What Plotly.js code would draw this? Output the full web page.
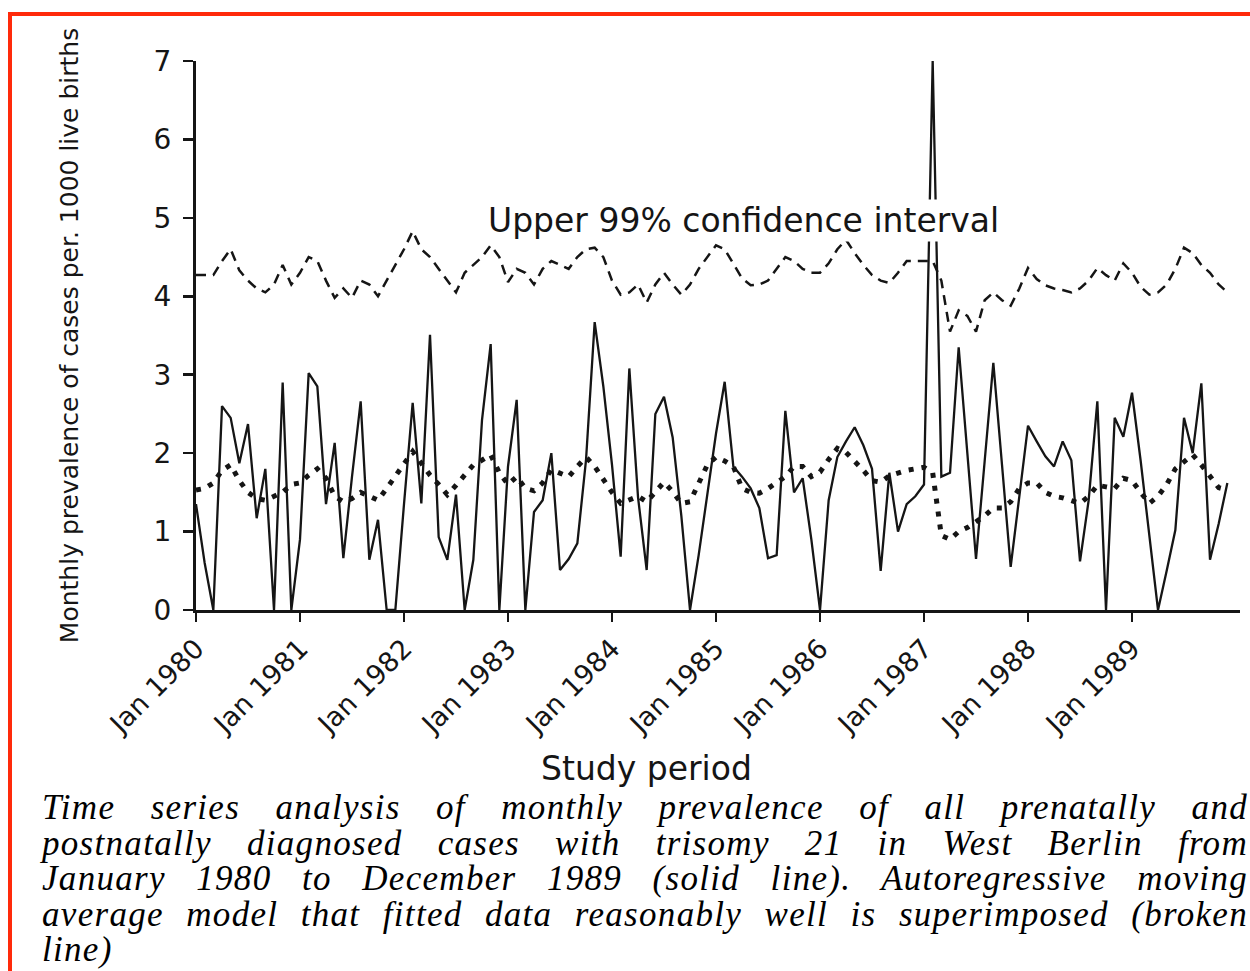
<!DOCTYPE html>
<html>
<head>
<meta charset="utf-8">
<script src="https://cdn.plot.ly/plotly-3.0.1.min.js"></script>
<style>
  html, body { margin: 0; padding: 0; background: #fff; overflow: hidden; }
  #wrap { position: relative; width: 1250px; height: 971px; overflow: hidden; }
  #chart { position: absolute; left: 0; top: 0; width: 1250px; height: 971px; }
  #frame { position: absolute; left: 8px; top: 12px; width: 1400px; height: 1100px;
           border-left: 4px solid #ff2a0a; border-top: 4px solid #ff2a0a; pointer-events: none; }
  #caption { position: absolute; left: 42px; top: 790px; width: 1206px;
             font-family: "Liberation Serif", "DejaVu Serif", serif; font-style: italic;
             font-size: 35px; line-height: 35.5px; color: #000; letter-spacing: 1.3px; }
  #caption .j { text-align: justify; text-align-last: justify; }
</style>
</head>
<body>
<div id="wrap">
  <div id="chart"></div>
  <div id="frame"></div>
  <div id="caption">
    <div class="j">Time series analysis of monthly prevalence of all prenatally and</div>
    <div class="j">postnatally diagnosed cases with trisomy 21 in West Berlin from</div>
    <div class="j">January 1980 to December 1989 (solid line). Autoregressive moving</div>
    <div class="j">average model that fitted data reasonably well is superimposed (broken</div>
    <div>line)</div>
  </div>
</div>
<script>
// Tick labels (January of each year)
const tickLabels = ["Jan 1980","Jan 1981","Jan 1982","Jan 1983","Jan 1984",
                    "Jan 1985","Jan 1986","Jan 1987","Jan 1988","Jan 1989"];

// Observed monthly prevalence per 1000 live births, Jan 1980 .. Dec 1989 (solid line)
const observed1980_81 = [1.35,0.6,0,2.6,2.45,1.87,2.37,1.17,1.8,0,2.9,0,
                         0.9,3.02,2.85,1.35,2.13,0.66,1.7,2.66,0.64,1.15,0,0];
const observed1982_83 = [1.35,2.64,1.36,3.51,0.93,0.64,1.47,0,0.64,2.42,3.39,0,
                         1.83,2.68,0,1.25,1.4,2.0,0.51,0.65,0.85,1.91,3.67,2.85];
const observed1984_85 = [1.85,0.68,3.08,1.44,0.51,2.5,2.72,2.2,1.2,0,0.7,1.5,
                         2.25,2.91,1.83,1.7,1.55,1.3,0.66,0.7,2.54,1.5,1.68,0.9];
const observed1986_87 = [0,1.4,1.95,2.15,2.33,2.1,1.8,0.5,1.75,1.0,1.35,1.45,
                         1.6,7.0,1.7,1.75,3.35,2.0,0.65,1.9,3.15,1.85,0.55,1.45];
const observed1988_89 = [2.35,2.15,1.96,1.83,2.15,1.91,0.62,1.4,2.66,0,2.45,2.21,
                         2.77,1.9,0.95,0,0.5,1.02,2.45,2.0,2.89,0.64,1.1,1.62];

// ARMA model fit (dotted line)
const fitted1980_81 = [1.53,1.55,1.62,1.78,1.85,1.65,1.5,1.42,1.4,1.45,1.5,1.6,
                       1.62,1.72,1.8,1.68,1.45,1.38,1.42,1.5,1.45,1.4,1.55,1.7];
const fitted1982_83 = [1.87,2.02,1.87,1.72,1.6,1.47,1.59,1.72,1.85,1.91,1.98,1.75,
                       1.6,1.7,1.55,1.52,1.62,1.79,1.75,1.7,1.83,1.95,1.83,1.66];
const fitted1984_85 = [1.5,1.36,1.4,1.45,1.38,1.51,1.63,1.51,1.36,1.38,1.6,1.85,
                       1.95,1.9,1.83,1.55,1.5,1.49,1.55,1.62,1.7,1.83,1.83,1.7];
const fitted1986_87 = [1.76,1.92,2.06,2.01,1.9,1.78,1.65,1.63,1.71,1.75,1.78,1.8,
                       1.82,1.75,0.95,0.9,1.0,1.05,1.12,1.2,1.3,1.3,1.38,1.55];
const fitted1988_89 = [1.62,1.62,1.5,1.45,1.43,1.4,1.36,1.45,1.59,1.57,1.55,1.68,
                       1.65,1.5,1.36,1.45,1.6,1.8,1.9,1.98,1.85,1.7,1.56,1.53];

// Upper 99% confidence interval (dashed line)
const upper1980_81 = [4.27,4.27,4.27,4.45,4.6,4.33,4.2,4.1,4.05,4.15,4.4,4.15,
                      4.3,4.5,4.45,4.2,3.98,4.1,3.98,4.2,4.15,4.0,4.2,4.4];
const upper1982_83 = [4.6,4.83,4.6,4.5,4.35,4.2,4.05,4.3,4.4,4.5,4.65,4.5,
                      4.18,4.35,4.3,4.15,4.35,4.45,4.4,4.35,4.5,4.6,4.62,4.5];
const upper1984_85 = [4.2,4.02,4.05,4.15,3.92,4.15,4.3,4.15,4.02,4.15,4.35,4.5,
                      4.65,4.6,4.42,4.23,4.14,4.15,4.2,4.35,4.5,4.45,4.35,4.3];
const upper1986_87 = [4.3,4.42,4.6,4.72,4.55,4.4,4.27,4.2,4.17,4.3,4.45,4.45,
                      4.45,4.45,4.2,3.55,3.82,3.75,3.55,3.95,4.05,3.95,3.88,4.1];
const upper1988_89 = [4.36,4.22,4.14,4.1,4.08,4.05,4.1,4.2,4.36,4.27,4.2,4.42,
                      4.3,4.12,4.02,4.05,4.15,4.35,4.62,4.55,4.4,4.3,4.15,4.05];

const observed = [].concat(observed1980_81, observed1982_83, observed1984_85, observed1986_87, observed1988_89);
const fitted   = [].concat(fitted1980_81, fitted1982_83, fitted1984_85, fitted1986_87, fitted1988_89);
const upper    = [].concat(upper1980_81, upper1982_83, upper1984_85, upper1986_87, upper1988_89);

// month index (0 = Jan 1980)
const months = observed.map((_, i) => i);
const tickMonths = tickLabels.map((_, i) => i * 12);

const ink = "#151515";
const sans = "DejaVu Sans, Open Sans, sans-serif";

const traces = [
  { x: months, y: upper, type: "scatter", mode: "lines", name: "Upper 99% CI",
    line: { color: ink, width: 2.5, dash: "10px,7px" }, hoverinfo: "skip" },
  { x: months, y: fitted, type: "scatter", mode: "lines", name: "ARMA model",
    line: { color: ink, width: 5, dash: "5px,8px" }, hoverinfo: "skip" },
  { x: months, y: observed, type: "scatter", mode: "lines", name: "Observed",
    line: { color: ink, width: 2.3 }, hoverinfo: "skip" }
];

const layout = {
  width: 1250, height: 971,
  margin: { l: 196, r: 10, t: 61, b: 361 },
  paper_bgcolor: "rgba(0,0,0,0)", plot_bgcolor: "rgba(0,0,0,0)",
  showlegend: false,
  xaxis: {
    range: [0, 120.46], showgrid: false, zeroline: false,
    showline: true, linecolor: ink, linewidth: 3,
    ticks: "outside", ticklen: 9, tickwidth: 2.5, tickcolor: ink,
    tickmode: "array", tickvals: tickMonths, ticktext: tickLabels,
    tickangle: -45, tickfont: { family: sans, size: 27, color: ink }
  },
  yaxis: {
    range: [0, 7], showgrid: false, zeroline: false,
    showline: true, linecolor: ink, linewidth: 3,
    ticks: "outside", ticklen: 10, tickwidth: 2.5, tickcolor: ink,
    tickvals: [0,1,2,3,4,5,6,7], tickfont: { family: sans, size: 28, color: ink },
    ticklabelstandoff: 6,
    title: { text: "Monthly prevalence of cases per. 1000 live births",
             font: { family: sans, size: 25, color: ink },
             standoff: 68 }
  },
  annotations: [
    { x: 63.2, y: 4.97, xref: "x", yref: "y", showarrow: false,
      xanchor: "center", yanchor: "middle",
      text: "Upper 99% confidence interval", bgcolor: "#ffffff",
      font: { family: sans, size: 33, color: ink } },
    { x: 0, y: 0, xref: "paper", yref: "paper", showarrow: false,
      xanchor: "center", yanchor: "middle",
      text: "Study period",
      font: { family: sans, size: 33, color: ink } }
  ]
};
// place the "Study period" label in paper coordinates computed from its pixel position
(function () {
  const pw = 1250 - 196 - 10, ph = 971 - 61 - 361;
  const a = layout.annotations[1];
  a.x = (646 - 196) / pw;
  a.y = (610 - 768) / ph;
})();

Plotly.newPlot("chart", traces, layout, { staticPlot: true, displayModeBar: false });
</script>
</body>
</html>
